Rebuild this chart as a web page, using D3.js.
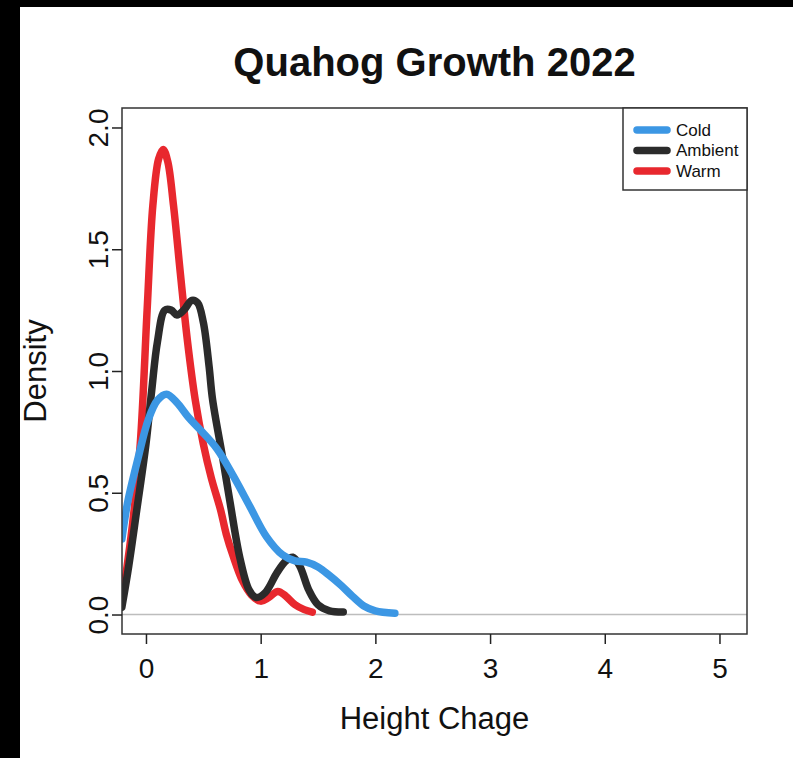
<!DOCTYPE html>
<html>
<head>
<meta charset="utf-8">
<script src="https://cdn.jsdelivr.net/npm/d3@7"></script>
<style>
  body { margin: 0; background: #000; }
  text { font-family: "Liberation Sans", Arial, sans-serif; fill: #111; }
</style>
</head>
<body>
<div id="chart"></div>
<script>
// density curves: [height change, density]
var warmDensity = [
  [-0.21, 0.05], [-0.12, 0.36], [-0.05, 0.70], [0.01, 1.25], [0.06, 1.68],
  [0.11, 1.87], [0.15, 1.91], [0.19, 1.86], [0.24, 1.68], [0.30, 1.40],
  [0.36, 1.13], [0.43, 0.88], [0.50, 0.70], [0.57, 0.56], [0.65, 0.43],
  [0.70, 0.33], [0.76, 0.24], [0.84, 0.14], [0.92, 0.08], [1.00, 0.055],
  [1.07, 0.07], [1.15, 0.095], [1.22, 0.075], [1.30, 0.04], [1.38, 0.02], [1.45, 0.01]
];
var ambientDensity = [
  [-0.21, 0.03], [-0.15, 0.20], [-0.08, 0.43], [0.00, 0.70], [0.05, 0.92],
  [0.10, 1.12], [0.165, 1.25], [0.22, 1.25], [0.27, 1.23], [0.33, 1.25],
  [0.40, 1.29], [0.45, 1.28], [0.50, 1.20], [0.55, 1.02], [0.58, 0.885],
  [0.67, 0.64], [0.73, 0.47], [0.82, 0.23], [0.90, 0.10], [0.96, 0.07],
  [1.04, 0.09], [1.14, 0.17], [1.22, 0.22], [1.28, 0.235], [1.34, 0.20],
  [1.42, 0.10], [1.50, 0.04], [1.60, 0.015], [1.72, 0.01]
];
var coldDensity = [
  [-0.21, 0.31], [-0.16, 0.46], [-0.07, 0.64], [0.02, 0.80], [0.10, 0.88],
  [0.18, 0.905], [0.27, 0.87], [0.37, 0.81], [0.47, 0.76], [0.62, 0.68],
  [0.76, 0.57], [0.91, 0.44], [1.05, 0.32], [1.19, 0.245], [1.30, 0.22],
  [1.40, 0.215], [1.50, 0.195], [1.60, 0.16], [1.70, 0.12], [1.80, 0.075],
  [1.90, 0.035], [2.00, 0.015], [2.17, 0.005]
];
var seriesNames = ["Cold", "Ambient", "Warm"];
var seriesColors = ["#3C97E4", "#2B2B2B", "#E8282E"];
var xTicks = [0, 1, 2, 3, 4, 5];
var yTicks = [0, 0.5, 1, 1.5, 2];

var width = 793, height = 758;
var box = {left: 122, right: 747, top: 108, bottom: 634};

var svg = d3.select("#chart").append("svg")
  .attr("width", width)
  .attr("height", height)
  .style("display", "block");

// screenshot frame: black strip at top and left
svg.append("rect").attr("width", width).attr("height", height).attr("fill", "#000");
svg.append("rect").attr("x", 20).attr("y", 7)
  .attr("width", width - 20).attr("height", height - 7).attr("fill", "#fff");

var x = d3.scaleLinear().domain([-0.209, 5.24]).range([box.left, box.right]);
var y = d3.scaleLinear().domain([-0.08, 2.08]).range([box.bottom, box.top]);

svg.append("clipPath").attr("id", "plotClip")
  .append("rect")
  .attr("x", box.left).attr("y", box.top)
  .attr("width", box.right - box.left).attr("height", box.bottom - box.top);

// zero line
svg.append("line")
  .attr("x1", box.left).attr("x2", box.right)
  .attr("y1", y(0)).attr("y2", y(0))
  .attr("stroke", "#bdbdbd").attr("stroke-width", 1.5);

var line = d3.line()
  .x(d => x(d[0]))
  .y(d => y(d[1]))
  .curve(d3.curveCatmullRom.alpha(0.5));

var curves = [
  {data: warmDensity, color: seriesColors[2]},
  {data: ambientDensity, color: seriesColors[1]},
  {data: coldDensity, color: seriesColors[0]}
];

svg.append("g").attr("clip-path", "url(#plotClip)")
  .selectAll("path")
  .data(curves)
  .join("path")
  .attr("d", d => line(d.data))
  .attr("fill", "none")
  .attr("stroke", d => d.color)
  .attr("stroke-width", 7.5)
  .attr("stroke-linecap", "round")
  .attr("stroke-linejoin", "round");

// plot box
svg.append("rect")
  .attr("x", box.left).attr("y", box.top)
  .attr("width", box.right - box.left).attr("height", box.bottom - box.top)
  .attr("fill", "none").attr("stroke", "#333").attr("stroke-width", 1.5);

// x axis
var xAxis = d3.axisBottom(x).tickValues(xTicks).tickFormat(d3.format("d"))
  .tickSize(10).tickPadding(8);
var gx = svg.append("g")
  .attr("transform", `translate(0, ${box.bottom})`)
  .call(xAxis);
gx.select(".domain").remove();
gx.selectAll(".tick line").attr("stroke", "#222").attr("stroke-width", 1.5);
gx.selectAll(".tick text")
  .attr("y", 34)
  .attr("dy", "0.35em")
  .style("font-size", "28px")
  .style("font-family", "'Liberation Sans', Arial, sans-serif")
  .attr("fill", "#111");

// y axis
var yAxis = d3.axisLeft(y).tickValues(yTicks).tickFormat(d3.format(".1f"))
  .tickSize(10);
var gy = svg.append("g")
  .attr("transform", `translate(${box.left}, 0)`)
  .call(yAxis);
gy.select(".domain").remove();
gy.selectAll(".tick line").attr("stroke", "#222").attr("stroke-width", 1.5);
gy.selectAll(".tick text")
  .attr("x", null).attr("dy", null)
  .attr("transform", "translate(-24, 0) rotate(-90)")
  .attr("text-anchor", "middle")
  .attr("dominant-baseline", "central")
  .style("font-size", "28px")
  .style("font-family", "'Liberation Sans', Arial, sans-serif")
  .attr("fill", "#111");

// titles
svg.append("text")
  .attr("x", (box.left + box.right) / 2).attr("y", 62)
  .attr("text-anchor", "middle").attr("dominant-baseline", "central")
  .style("font-size", "40px").style("font-weight", "bold")
  .text("Quahog Growth 2022");

svg.append("text")
  .attr("x", (box.left + box.right) / 2).attr("y", 718)
  .attr("text-anchor", "middle").attr("dominant-baseline", "central")
  .style("font-size", "31px")
  .text("Height Chage");

svg.append("text")
  .attr("transform", `translate(35, ${(box.top + box.bottom) / 2}) rotate(-90)`)
  .attr("text-anchor", "middle").attr("dominant-baseline", "central")
  .style("font-size", "31px")
  .text("Density");

// legend
var legend = svg.append("g").attr("transform", "translate(623, 108)");
legend.append("rect")
  .attr("width", box.right - 623).attr("height", 82)
  .attr("fill", "#fff").attr("stroke", "#333").attr("stroke-width", 1.5);
var rows = legend.selectAll("g.row")
  .data(seriesNames)
  .join("g")
  .attr("class", "row")
  .attr("transform", (d, i) => `translate(0, ${22 + i * 20.5})`);
rows.append("line")
  .attr("x1", 14).attr("x2", 44)
  .attr("stroke", (d, i) => seriesColors[i])
  .attr("stroke-width", 7.5)
  .attr("stroke-linecap", "round");
rows.append("text")
  .attr("x", 53)
  .attr("dominant-baseline", "central")
  .style("font-size", "17px")
  .attr("fill", "#222")
  .text(d => d);
</script>
</body>
</html>
